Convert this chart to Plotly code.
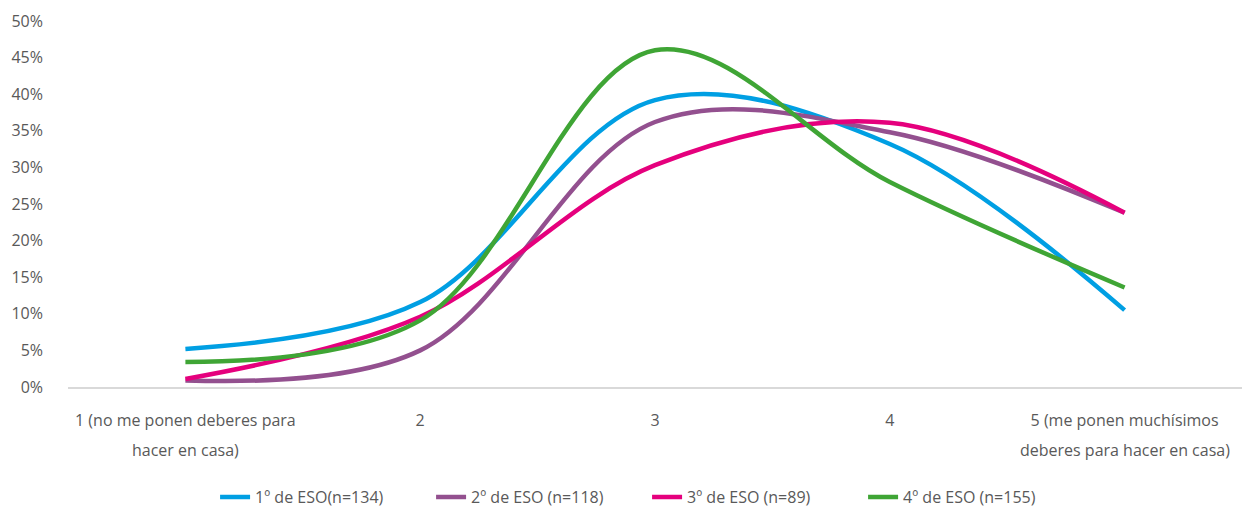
import plotly.graph_objects as go

# Response scale (x categories): first line of each label, plus a second line where needed
categories = ["1", "2", "3", "4", "5"]
tick_line1 = ["1 (no me ponen deberes para", "2", "3", "4", "5 (me ponen muchísimos"]
tick_line2 = ["hacer en casa)", "", "", "", "deberes para hacer en casa)"]

# Share of pupils (%) per answer, by course
eso1 = [5.2, 11.6, 39.2, 33.2, 10.5]
eso2 = [0.9, 5.0, 36.2, 34.8, 23.8]
eso3 = [1.1, 9.6, 30.3, 36.1, 23.8]
eso4 = [3.4, 9.1, 46.0, 28.0, 13.6]

series_names = ["1º de ESO(n=134)", "2º de ESO (n=118)", "3º de ESO (n=89)", "4º de ESO (n=155)"]
series_values = [eso1, eso2, eso3, eso4]
series_colors = ["#009FE3", "#93508F", "#E5007D", "#3FA535"]

FONT = "Open Sans"
GREY = "#595959"
SIZE = 16

fig = go.Figure()
for name, vals, col in zip(series_names, series_values, series_colors):
    fig.add_trace(go.Scatter(
        x=categories, y=vals, name=name, mode="lines",
        line=dict(color=col, width=4.5, shape="spline", smoothing=1.0),
    ))

# second line of the long category labels, placed under the first line
# (category axis positions are the category indices)
for i, txt in enumerate(tick_line2):
    if txt:
        fig.add_annotation(x=i, xref="x", y=0, yref="paper", yshift=-63,
                           text=txt, showarrow=False, yanchor="middle",
                           font=dict(family=FONT, size=SIZE, color=GREY))

fig.update_layout(
    width=1242, height=511,
    margin=dict(l=68, r=0, t=21, b=124),
    paper_bgcolor="white", plot_bgcolor="white",
    font=dict(family=FONT, size=SIZE, color=GREY),
    showlegend=True,
    legend=dict(orientation="h", xref="container", yref="container",
                x=0.521, xanchor="center", y=0.027, yanchor="middle",
                font=dict(family=FONT, size=SIZE, color=GREY),
                traceorder="normal", itemwidth=30,
                entrywidth=171, entrywidthmode="pixels"),
)
fig.update_xaxes(
    type="category", range=[-0.5, 4.5],
    tickvals=categories, ticktext=tick_line1,
    showgrid=False, zeroline=False,
    showline=True, linecolor="#D9D9D9", linewidth=1.5,
    ticks="", ticklabelstandoff=18,
    tickfont=dict(family=FONT, size=SIZE, color=GREY),
)
fig.update_yaxes(
    range=[0, 50], dtick=5, ticksuffix="%",
    showgrid=False, zeroline=False, showline=False,
    ticks="", ticklabelstandoff=24,
    tickfont=dict(family=FONT, size=SIZE, color=GREY),
)

fig.write_html("out.html")
